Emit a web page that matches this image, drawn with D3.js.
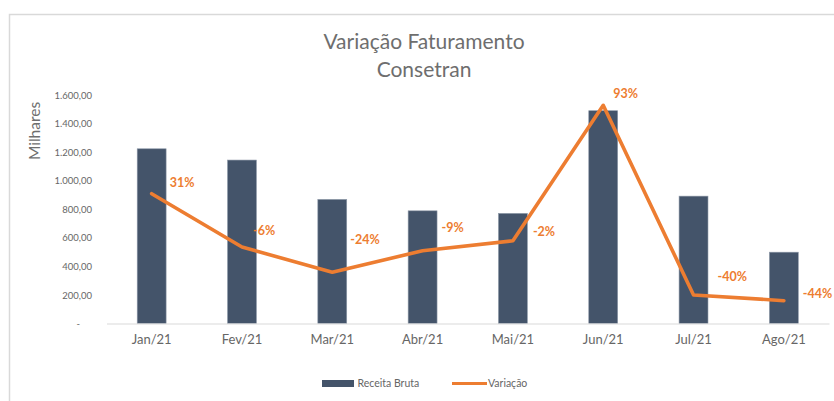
<!DOCTYPE html>
<html><head><meta charset="utf-8">
<script src="https://cdn.jsdelivr.net/npm/d3@7"></script>
<style>html,body{margin:0;padding:0;background:#fff;}svg{display:block;}</style>
</head><body>
<script>
const categories = ["Jan/21","Fev/21","Mar/21","Abr/21","Mai/21","Jun/21","Jul/21","Ago/21"];
const receitaBruta = [1225, 1146, 870, 790, 772, 1492, 893, 500];
const variacao = [0.31, -0.064, -0.24, -0.09, -0.02, 0.93, -0.40, -0.44];
const yTicks = [0, 200, 400, 600, 800, 1000, 1200, 1400, 1600];
const titleLines = ["Variação Faturamento", "Consetran"];
const seriesNames = ["Receita Bruta", "Variação"];
// label placement offsets (layout only)
const labelOffsets = [[18,-11],[11,-16],[18,-33],[19,-23],[20,-9],[10,-12],[24,-18],[19,-7]];

const W = 834, H = 401;
const font = "Lato, 'Open Sans', sans-serif";
const svg = d3.select("body").append("svg").attr("width", W).attr("height", H);

// outer frame
svg.append("path").attr("d", `M9.5,${H} V14.5 H${W}`).attr("fill","none").attr("stroke","#d9d9d9").attr("stroke-width",1.5);

const plot = {left:106.5, right:829, top:95.3, bottom:323.5};
const x = d3.scaleBand().domain(categories).range([plot.left, plot.right]).paddingInner(0.68).paddingOuter(0.34);
const y = d3.scaleLinear().domain([0,1600]).range([plot.bottom, plot.top]);
const y2 = d3.scaleLinear().domain([-0.6,1.0]).range([plot.bottom, plot.top]);

// title
svg.append("g").selectAll("text").data(titleLines).join("text")
  .attr("x", 424).attr("y",(d,i)=>48.5+i*28.5).attr("text-anchor","middle")
  .attr("font-family",font).attr("font-size",21).attr("fill","#6e6e6e").text(d=>d);

// y axis labels
const fmt = v => v===0 ? "-" : d3.formatLocale({decimal:",",thousands:".",grouping:[3],currency:["",""]}).format(",.2f")(v);
const yAxis = d3.axisLeft(y).tickValues(yTicks).tickFormat(fmt).tickSize(0).tickPadding(0);
const gy = svg.append("g").attr("transform",`translate(92,0)`).call(yAxis);
gy.select(".domain").remove();
gy.selectAll("text").attr("font-family",font).attr("font-size",9.5).attr("fill","#666");
gy.selectAll(".tick").filter(d=>d===0).select("text").attr("dx",-12);

svg.append("text").attr("transform","translate(40,131) rotate(-90)").attr("text-anchor","middle")
  .attr("font-family",font).attr("font-size",15.5).attr("fill","#6e6e6e").text("Milhares");

// bars
svg.append("g").selectAll("rect").data(categories).join("rect")
  .attr("x",d=>x(d)).attr("width",x.bandwidth())
  .attr("y",(d,i)=>y(receitaBruta[i])).attr("height",(d,i)=>y(0)-y(receitaBruta[i]))
  .attr("fill","#44546a").attr("stroke","#8e99a8").attr("stroke-width",0.6);

// x axis
const xAxis = d3.axisBottom(x).tickSize(0).tickPadding(0);
const gx = svg.append("g").attr("transform",`translate(0,${plot.bottom})`).call(xAxis);
gx.select(".domain").attr("stroke","#d9d9d9").attr("stroke-width",1.2);
gx.selectAll("text").attr("font-family",font).attr("font-size",13).attr("fill","#666").attr("dy","1.6em");

// line
const pts = categories.map((c,i)=>[x(c)+x.bandwidth()/2, y2(variacao[i])]);
svg.append("path").attr("d", d3.line()(pts)).attr("fill","none").attr("stroke","#ed7d31")
  .attr("stroke-width",3.6).attr("stroke-linejoin","round").attr("stroke-linecap","round");

// data labels
svg.append("g").selectAll("text").data(variacao).join("text")
  .attr("x",(d,i)=>pts[i][0]+labelOffsets[i][0]).attr("y",(d,i)=>pts[i][1]+labelOffsets[i][1])
  .attr("dy","0.35em").attr("font-family",font).attr("font-size",12.5).attr("font-weight","bold")
  .attr("fill","#ed7d31").text(d=>Math.round(d*100)+"%");

// legend
const lg = svg.append("g");
lg.append("rect").attr("x",322).attr("y",380).attr("width",32).attr("height",7).attr("fill","#44546a");
lg.append("text").attr("x",357.5).attr("y",383.5).attr("dy","0.35em").attr("font-family",font).attr("font-size",10.5).attr("fill","#666").text(seriesNames[0]);
lg.append("line").attr("x1",452).attr("x2",487).attr("y1",383.5).attr("y2",383.5).attr("stroke","#ed7d31").attr("stroke-width",3.2);
lg.append("text").attr("x",488).attr("y",383.5).attr("dy","0.35em").attr("font-family",font).attr("font-size",10.5).attr("fill","#666").text(seriesNames[1]);
</script>
</body></html>
